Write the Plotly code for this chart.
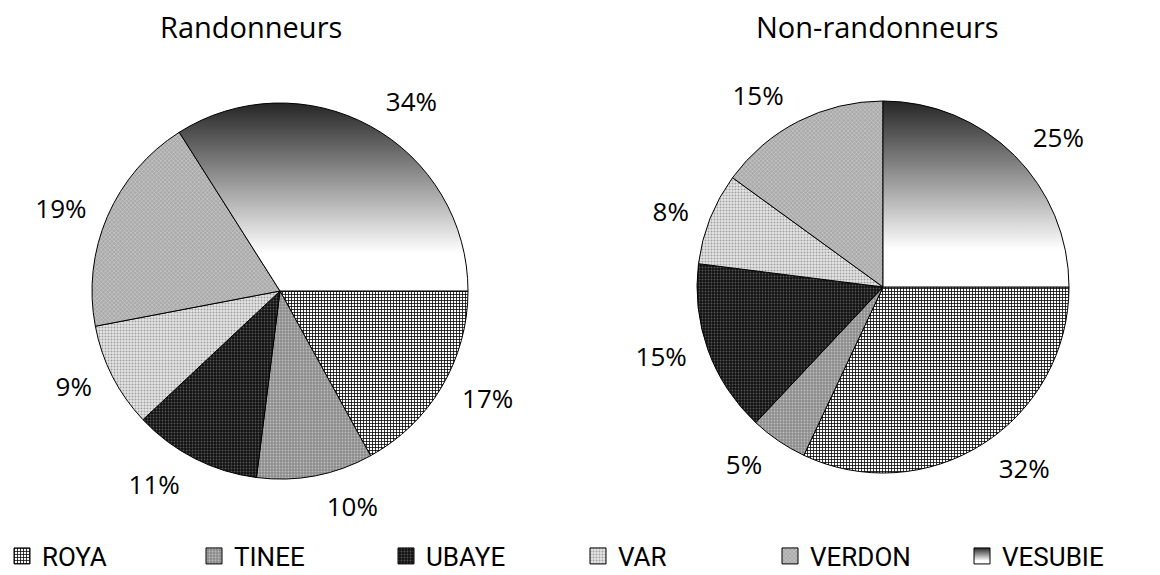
import plotly.graph_objects as go

categories = ["ROYA", "TINEE", "UBAYE", "VAR", "VERDON", "VESUBIE"]
randonneurs = [17, 10, 11, 9, 19, 34]
non_randonneurs = [32, 5, 15, 8, 15, 25]
titles = ["Randonneurs", "Non-randonneurs"]

bg_colors = ["#ffffff", "#8c8c8c", "#111111", "#e6e6e6", "#a9a9a9", "#9a9a9a"]
fg_colors = ["#000000", "#bdbdbd", "#555555", "#a0a0a0", "#d9d9d9", "#9a9a9a"]
shapes = ["+", ".", ".", ".", "x", ""]
sizes = [3, 3, 3, 3, 3, 8]
solidities = [0.45, 0.3, 0.3, 0.35, 0.3, 0.3]

W, H = 1152, 567   # page body has an 8px margin in the browser
OFF = 8

def domain(cx, cy, r):
    return dict(x=[(cx - r - OFF) / W, (cx + r - OFF) / W],
                y=[1 - (cy + r - OFF) / H, 1 - (cy - r - OFF) / H])

label_font = dict(family="Open Sans, DejaVu Sans, sans-serif", size=26, color="#000000")

def make_pie(values, dom, name):
    return go.Pie(
        name=name,
        labels=categories,
        values=values,
        sort=False,
        direction="clockwise",
        rotation=90,
        textinfo="none",
        domain=dom,
        marker=dict(
            colors=bg_colors,
            line=dict(color="#000000", width=1),
            pattern=dict(shape=shapes, fgcolor=fg_colors, bgcolor=bg_colors,
                         size=sizes, solidity=solidities),
        ),
        hoverinfo="label+percent",
    )

def make_label_pie(values, dom, name):
    # transparent companion pie, slightly larger, only carrying the outside percent labels
    return go.Pie(
        name=name,
        labels=categories,
        values=values,
        sort=False,
        direction="clockwise",
        rotation=90,
        textinfo="percent",
        textposition="outside",
        textfont=label_font,
        outsidetextfont=label_font,
        domain=dom,
        marker=dict(colors=["rgba(0,0,0,0)"] * len(categories),
                    line=dict(color="rgba(0,0,0,0)", width=0)),
        showlegend=False,
        hoverinfo="skip",
    )

fig = go.Figure()
fig.add_trace(make_pie(randonneurs, domain(280, 291, 188), "left"))
fig.add_trace(make_pie(non_randonneurs, domain(883, 287, 186), "right"))
fig.add_trace(make_label_pie(randonneurs, domain(280, 291, 201), "left labels"))
fig.add_trace(make_label_pie(non_randonneurs, domain(883, 287, 199), "right labels"))

title_font = dict(family="Open Sans, DejaVu Sans, sans-serif", size=29, color="#000000")
fig.add_annotation(text=titles[0], x=(250.5 - OFF) / W, y=0.9665, xref="paper", yref="paper",
                   xanchor="center", yanchor="middle", showarrow=False, font=title_font)
fig.add_annotation(text=titles[1], x=(877.5 - OFF) / W, y=0.9665, xref="paper", yref="paper",
                   xanchor="center", yanchor="middle", showarrow=False, font=title_font)

fig.update_layout(
    width=W,
    height=H,
    margin=dict(l=0, r=0, t=0, b=0, autoexpand=False),
    paper_bgcolor="#ffffff",
    plot_bgcolor="#ffffff",
    showlegend=True,
    legend=dict(
        orientation="h",
        x=-0.0052,
        xanchor="left",
        y=-0.008,
        yanchor="bottom",
        entrywidth=147,
        entrywidthmode="pixels",
        font=dict(family="Roboto, Liberation Sans Narrow, sans-serif", size=26, color="#000000"),
        bgcolor="rgba(0,0,0,0)",
        traceorder="normal",
    ),
)

post_js = """
var gd = document.getElementById('{plot_id}');
var ns = 'http://www.w3.org/2000/svg';
var defs = gd.querySelector('svg.main-svg defs');
if (defs) {
  var grad = document.createElementNS(ns, 'linearGradient');
  grad.setAttribute('id', 'vesubieGrad');
  grad.setAttribute('x1', '0'); grad.setAttribute('y1', '0');
  grad.setAttribute('x2', '0'); grad.setAttribute('y2', '1');
  [['0', '#262626'], ['0.8', '#ffffff'], ['1', '#ffffff']].forEach(function (s) {
    var st = document.createElementNS(ns, 'stop');
    st.setAttribute('offset', s[0]);
    st.setAttribute('stop-color', s[1]);
    grad.appendChild(st);
  });
  defs.appendChild(grad);
  gd.querySelectorAll('g.pielayer g.trace').forEach(function (t) {
    var cd = t.__data__;
    if (!cd || !cd[0] || !cd[0].trace || String(cd[0].trace.name).indexOf('labels') >= 0) return;
    t.querySelectorAll('g.slice').forEach(function (s) {
      var d = s.__data__;
      if (d && d.label === 'VESUBIE') {
        var p = s.querySelector('path.surface');
        if (p) p.style.fill = 'url(#vesubieGrad)';
      }
    });
  });
  gd.querySelectorAll('g.legend g.traces').forEach(function (t) {
    var p = t.querySelector('path.legendpie');
    if (p) p.setAttribute('d', 'M8,8V-8H-8V8Z');
    var tx = t.querySelector('text.legendtext');
    if (p && tx && tx.textContent === 'VESUBIE') p.style.fill = 'url(#vesubieGrad)';
  });
}
"""

fig.write_html("out.html", post_script=post_js)
